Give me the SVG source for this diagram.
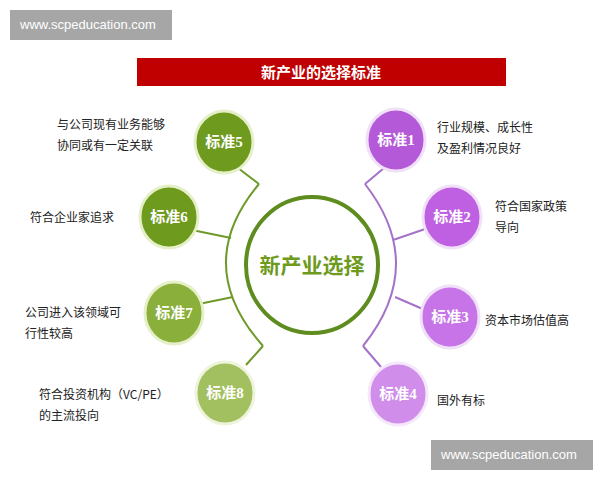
<svg xmlns="http://www.w3.org/2000/svg" width="600" height="480" viewBox="0 0 600 480">
<style>
.lbl{font-family:"Liberation Serif","Noto Sans CJK SC",serif;font-size:15px;font-weight:bold;fill:#fff;text-anchor:middle}
.t{font-family:"Noto Sans CJK SC",sans-serif;font-size:12px;fill:#222}
.wm{font-family:"Liberation Sans",sans-serif;font-size:13px;fill:#fff}
.ln{fill:none;stroke-width:2}
.g{stroke:#6f9a2a}.p{stroke:#a472c8}
.n{stroke-width:3}
</style>
<rect width="600" height="480" fill="#fff"/>
<rect x="10" y="10" width="162" height="30" fill="#a6a6a6"/>
<text class="wm" x="20" y="29">www.scpeducation.com</text>
<rect x="431" y="440" width="162" height="30" fill="#a6a6a6"/>
<text class="wm" x="441" y="459">www.scpeducation.com</text>
<rect x="137" y="58" width="369" height="28" fill="#c00000"/>
<text x="321" y="78" text-anchor="middle" font-family="Noto Sans CJK SC,sans-serif" font-size="15" font-weight="bold" fill="#fff">新产业的选择标准</text>
<g id="connectors">
<path class="ln g" d="M259,184 Q191,265 263,346"/>
<path class="ln g" d="M238,168 L259,184 M192,230 L231,238 M194,305 L233,297 M246,365 L263,346"/>
<path class="ln p" d="M365,184 Q428,265 363,346"/>
<path class="ln p" d="M384,168 L365,184 M428,228 L393,240 M425,310 L395,297 M381,367 L363,346"/>
</g>
<g id="center">
<ellipse cx="312" cy="265" rx="66" ry="68" fill="#fff" stroke="#5e8c1e" stroke-width="4"/>
<text x="312" y="273" text-anchor="middle" font-family="Noto Sans CJK SC,sans-serif" font-size="21" font-weight="bold" fill="#6e9a1e">新产业选择</text>
</g>
<g id="n5"><ellipse cx="224" cy="142" rx="29" ry="31" fill="#6e9a1e" stroke="#e6f0c8" class="n"/><text class="lbl" x="224" y="147">标准5</text></g>
<g id="n6"><ellipse cx="169" cy="217" rx="29" ry="31" fill="#6e9a1e" stroke="#e6f0c8" class="n"/><text class="lbl" x="169" y="222">标准6</text></g>
<g id="n7"><ellipse cx="174" cy="313" rx="29" ry="31" fill="#8aaf3a" stroke="#e6f0c8" class="n"/><text class="lbl" x="174" y="318">标准7</text></g>
<g id="n8"><ellipse cx="225" cy="393" rx="29" ry="31" fill="#a3c060" stroke="#eef4dc" class="n"/><text class="lbl" x="225" y="398">标准8</text></g>
<g id="n1"><ellipse cx="396" cy="140" rx="29" ry="31" fill="#b45ad8" stroke="#f0e0f8" class="n"/><text class="lbl" x="396" y="145">标准1</text></g>
<g id="n2"><ellipse cx="452" cy="217" rx="29" ry="31" fill="#bf60e2" stroke="#f0e0f8" class="n"/><text class="lbl" x="452" y="222">标准2</text></g>
<g id="n3"><ellipse cx="450" cy="317" rx="29" ry="31" fill="#c674e8" stroke="#f0e0f8" class="n"/><text class="lbl" x="450" y="322">标准3</text></g>
<g id="n4"><ellipse cx="398" cy="394" rx="29" ry="31" fill="#d08eea" stroke="#f4e8fa" class="n"/><text class="lbl" x="398" y="399">标准4</text></g>
<text class="t" x="57" y="129">与公司现有业务能够</text>
<text class="t" x="57" y="150">协同或有一定关联</text>
<text class="t" x="30" y="222">符合企业家追求</text>
<text class="t" x="25" y="317">公司进入该领域可</text>
<text class="t" x="25" y="338">行性较高</text>
<text class="t" x="39" y="399">符合投资机构（VC/PE）</text>
<text class="t" x="39" y="420">的主流投向</text>
<text class="t" x="437" y="132">行业规模、成长性</text>
<text class="t" x="437" y="153">及盈利情况良好</text>
<text class="t" x="495" y="211">符合国家政策</text>
<text class="t" x="495" y="232">导向</text>
<text class="t" x="485" y="325">资本市场估值高</text>
<text class="t" x="437" y="405">国外有标</text>
</svg>
